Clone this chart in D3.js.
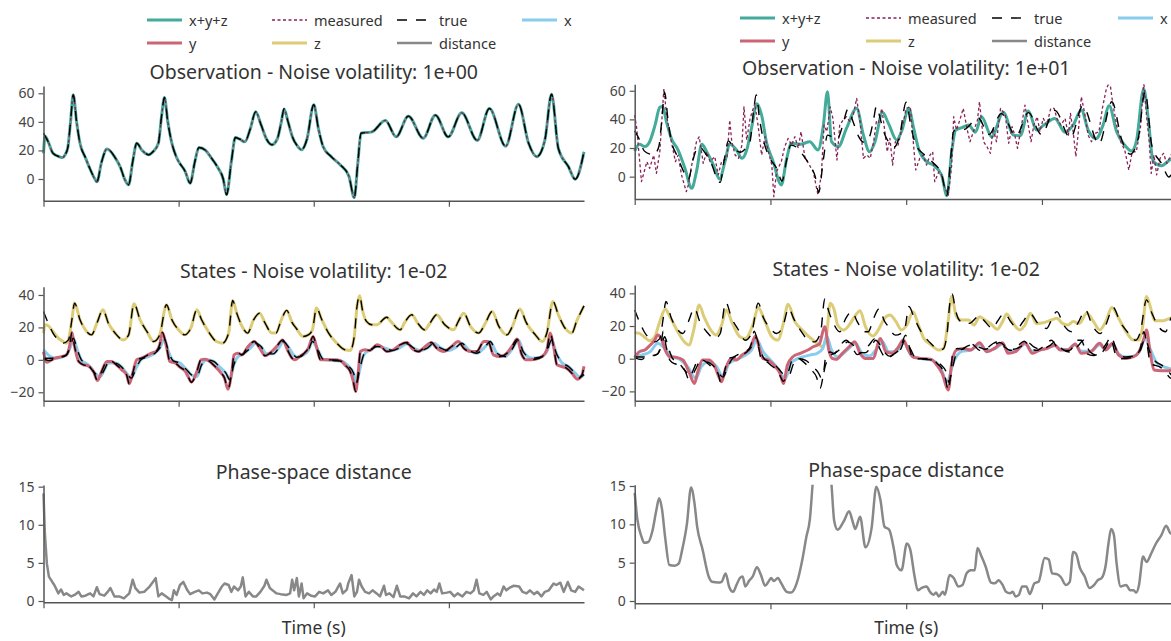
<!DOCTYPE html>
<html>
<head>
<meta charset="utf-8">
<script src="https://cdn.jsdelivr.net/npm/d3@7"></script>
<style>
  body { margin: 0; background: #fff; overflow: hidden; }
  svg { display: block; font-family: "Noto Sans", sans-serif; }
</style>
</head>
<body>
<svg id="chart" width="1171" height="641"></svg>
<script>
// ---- data: [time (s), value] ----
const timeTicks = [0, 10, 20, 30];
const obsTicks = [0, 20, 40, 60];
const stateTicks = [-20, 0, 20, 40];
const distTicks = [0, 5, 10, 15];

const trueObs = [[0,32],[0.35,26],[0.7,18],[1.2,15.5],[1.4,15],[1.6,17],[1.8,22],[2.0,40],[2.2,59],[2.45,40],[2.7,25],[3.1,15],[3.4,8],[3.8,0],[3.95,-2],[4.3,12],[4.7,21],[5.3,15],[5.7,8],[6.0,0],[6.3,-4],[6.6,12],[6.9,25],[7.3,20],[7.8,17],[8.1,19],[8.5,25],[8.75,45],[8.95,57],[9.2,40],[9.5,25],[9.85,15],[10.5,5],[10.85,-3],[11.2,12],[11.5,22],[12.0,20],[12.4,15],[12.9,8],[13.3,0],[13.55,-11],[13.9,12],[14.2,29],[14.5,28],[14.9,26],[15.3,35],[15.7,47],[16.1,38],[16.5,28],[16.9,24],[17.3,28],[17.6,40],[17.8,49],[18.1,40],[18.4,30],[18.8,23],[19.1,20.5],[19.5,28],[20.0,52],[20.35,35],[20.7,22.5],[21.3,15.6],[21.95,10],[22.6,2],[23.0,-13],[23.25,10],[23.5,32],[24.3,33],[25.3,41],[26.1,29.5],[27.0,44],[28.1,28.5],[29.0,44.7],[29.95,29.5],[30.95,46.3],[32.1,27],[33.0,49.3],[34.2,23],[35.15,52.3],[35.9,25],[36.5,15.6],[37.1,27],[37.6,59.3],[38.1,21.5],[38.85,8.6],[39.35,-0.2],[40,19]];

// left column: estimate joins the true curve after the first instant, measured lies on it
const obsEstLeft = [[0,18],[0.12,30], ...trueObs.slice(1)];
const obsMeasLeft = trueObs;

const obsEstRight = [[0,17.9],[0.35,22.6],[0.75,21],[1.1,24.4],[1.5,36],[1.85,48.4],[2.05,49],[2.35,38],[2.7,26.7],[3.2,18.6],[3.7,5.8],[4.2,-8.1],[4.55,3.5],[4.95,22.6],[5.3,17.4],[5.8,8.1],[6.25,-1.6],[6.65,10.5],[7.0,22.8],[7.5,18.6],[7.9,12.8],[8.25,18.6],[8.6,33.7],[9.0,51],[9.35,43],[9.7,24.4],[10.2,10.5],[10.8,-5.8],[11.2,12.8],[11.55,23.3],[12.2,22.6],[12.9,24.4],[13.5,18.6],[13.9,36],[14.2,59.3],[14.5,24.4],[15.0,21],[15.6,33.7],[16.35,47.7],[16.85,29],[17.3,17.4],[17.7,24.4],[18.25,44.9],[18.7,37],[19.3,25.6],[19.65,31.4],[20.2,47.7],[20.5,36],[20.9,19.8],[21.5,10.5],[22.0,8.1],[22.6,1.2],[23.0,-13.3],[23.35,17.4],[23.65,32.6],[24.1,34.2],[24.6,36],[25.1,31],[25.55,41.9],[26.3,27.9],[27.15,44.9],[27.9,29],[28.4,28.6],[29.0,45.8],[29.6,32.6],[30.2,36.5],[30.95,40.7],[31.7,31],[32.3,36],[32.9,46.5],[33.4,32.6],[34.0,26.7],[34.5,36],[34.95,49.5],[35.5,31.4],[36.1,22],[36.6,17.9],[36.95,24.4],[37.5,61.2],[37.8,43],[38.2,10.5],[38.8,7.7],[39.5,12.3],[40,14]];

const obsMeasRight = [[0,43],[0.15,33.7],[0.5,-3.5],[0.9,10.5],[1.1,5.8],[1.4,15],[1.6,2.3],[1.85,17.4],[2.15,61.6],[2.35,43],[2.6,29],[3.0,10.5],[3.2,15],[3.45,1.2],[3.8,-10.5],[3.95,-5.8],[4.2,8.1],[4.55,24.4],[4.75,27.9],[5.05,9.3],[5.3,17.4],[5.55,10.5],[5.9,14],[6.15,1.2],[6.4,10.5],[6.8,12.8],[7.0,39.5],[7.15,24.4],[7.4,15.1],[7.65,12.8],[7.9,22.1],[8.05,48.8],[8.25,25.6],[8.5,40.7],[8.85,51.2],[9.1,34.9],[9.35,15.1],[9.6,27.9],[9.85,17.4],[10.1,8.1],[10.25,-14],[10.45,3.5],[10.8,10.5],[11.05,20.9],[11.3,26.7],[11.55,22.1],[11.8,27.9],[12.05,19.8],[12.25,31.4],[12.55,12.8],[12.8,9.3],[13.15,3.5],[13.5,-12.8],[13.75,1.2],[13.95,36],[14.15,31.4],[14.4,48.8],[14.6,40.7],[14.9,11.6],[15.1,36],[15.35,39.5],[15.6,41.9],[15.85,38.4],[16.1,43],[16.35,54.7],[16.6,38.4],[16.85,12.8],[17.1,15.1],[17.35,12.8],[17.6,24.4],[17.8,38.4],[17.95,37.2],[18.2,47.7],[18.45,30],[18.6,17.4],[18.8,26.7],[19.0,8.1],[19.2,24.4],[19.4,22.1],[19.8,38.4],[20.0,47.7],[20.3,48.8],[20.5,26.7],[20.7,4.7],[21.0,12.8],[21.25,15.1],[21.5,8.1],[21.75,15.1],[21.95,17.4],[22.1,-3.5],[22.4,3.5],[22.6,1.2],[22.85,-8.1],[23.1,-12.8],[23.35,8.1],[23.5,41.9],[23.7,32.6],[23.95,39.5],[24.2,47.7],[24.5,32.6],[24.7,24.4],[24.95,31.4],[25.25,39.5],[25.4,52.3],[25.7,24.4],[25.95,20.9],[26.2,16.3],[26.4,33.7],[26.65,24.4],[26.95,47.7],[27.3,43],[27.55,23.3],[27.8,34.9],[28.0,29],[28.2,19.8],[28.5,36],[28.75,50],[28.95,38.4],[29.2,24.4],[29.4,36],[29.65,41.9],[29.85,31.4],[30.1,40.7],[30.35,36],[30.65,47.7],[30.9,47.7],[31.1,40.7],[31.4,36],[31.7,40.7],[31.95,29],[32.1,44.2],[32.3,31.4],[32.5,14],[32.7,33.7],[32.9,55.8],[33.15,44.2],[33.4,29],[33.65,24.4],[33.9,30.2],[34.2,31.4],[34.45,47.7],[34.75,61.6],[35.0,66.3],[35.2,52.3],[35.5,36],[35.8,24.4],[36.1,18.6],[36.4,4.7],[36.65,17.4],[36.95,17.4],[37.25,33.7],[37.5,66.3],[37.7,43],[37.9,24.4],[38.05,2.3],[38.25,15.1],[38.45,1.2],[38.7,12.8],[38.95,16.3],[39.2,9.3],[39.5,15.1],[39.8,17]];

const trueX = [[0,1],[0.35,1],[0.85,1],[1.35,1.6],[1.7,3.1],[2.0,8.2],[2.2,13.4],[2.5,6.2],[2.8,0],[3.3,-3.1],[3.8,-8.2],[4.2,-10.3],[4.5,-6.2],[4.8,-2],[5.3,-2],[5.8,-4.5],[6.15,-8.2],[6.5,-11.3],[6.85,-5.1],[7.25,0.4],[7.75,2],[8.25,4.1],[8.6,7.2],[8.95,12.8],[9.25,5.1],[9.6,-0.6],[10.1,-2],[10.6,-6.2],[10.95,-9.3],[11.35,-10.3],[11.7,-3.1],[12.1,0],[12.6,-1],[13.05,-4.5],[13.5,-8.2],[13.8,-12.3],[14.05,-4.1],[14.35,1.6],[14.8,3.7],[15.3,7.2],[15.7,10.3],[16.1,8.2],[16.5,3.7],[17.0,3.7],[17.4,7.2],[17.75,11.3],[18.1,8.2],[18.5,3.1],[18.75,1.6],[19.25,3.1],[19.6,5.8],[19.9,11.3],[20.3,6.2],[20.7,0.4],[21.45,-0.4],[22.1,-1],[22.55,-3.7],[22.95,-8.2],[23.15,-14.4],[23.4,-6.2],[23.7,3.1],[24.2,6.2],[24.7,8.2],[25.3,7.2],[25.8,5.8],[26.3,7.2],[26.9,9.9],[27.4,7.2],[27.9,5.8],[28.4,7.2],[28.9,10.3],[29.4,7.2],[29.95,5.8],[30.6,8.2],[30.95,10.3],[31.45,6.2],[32.05,4.1],[32.7,8.2],[33.05,11.3],[33.55,4.1],[34.15,2],[34.65,6.2],[35.15,12.3],[35.5,5.1],[36.15,1],[36.75,1.6],[37.25,5.1],[37.6,12.3],[37.95,4.1],[38.35,-1.6],[38.85,-4.1],[39.35,-8.2],[39.7,-10.7],[40,-9]];

const trueY = [[0,0.5],[0.5,-0.5],[0.85,1],[1.35,2],[1.7,3],[1.95,9.3],[2.1,16.9],[2.3,8.2],[2.6,-1],[2.95,-3.1],[3.3,-3.7],[3.7,-7.2],[4.0,-12.8],[4.3,-7.2],[4.7,-1],[5.05,-1],[5.4,-3.1],[5.8,-6.2],[6.15,-9.3],[6.35,-14.8],[6.6,-8.2],[6.9,0],[7.25,1],[7.6,2.5],[8.0,4.1],[8.4,5.8],[8.6,9.3],[8.8,16.9],[9.1,8.2],[9.35,-1],[9.75,-2],[10.1,-4.5],[10.5,-7.2],[10.7,-10.3],[10.95,-13.8],[11.35,-7.2],[11.65,0],[11.95,0.4],[12.3,-1],[12.7,-4.1],[13.05,-7.2],[13.4,-11.3],[13.65,-18.1],[13.95,-6.2],[14.1,3.1],[14.4,4.1],[14.7,3.1],[15.05,7.2],[15.6,11.3],[16.0,7.2],[16.4,2.5],[16.75,4.1],[17.25,8.2],[17.7,12.3],[18.05,6.2],[18.4,1],[18.6,0],[18.95,2],[19.3,4.1],[19.6,7.2],[19.95,14.4],[20.2,8.2],[20.5,0],[20.95,0],[21.6,0],[21.95,-0.4],[22.3,-3.1],[22.7,-7.2],[22.9,-12.3],[23.1,-19.5],[23.3,-7.2],[23.45,5.1],[23.8,6.2],[24.15,5.8],[24.7,9.3],[25.0,8.2],[25.4,5.1],[25.9,6.2],[26.4,9.3],[26.9,10.7],[27.25,7.2],[27.75,5.1],[28.25,8.2],[28.7,10.7],[29.1,7.2],[29.6,5.1],[30.2,8.2],[30.7,11.3],[31.1,7.2],[31.6,5.1],[32.05,5.1],[32.6,11.3],[32.9,11.3],[33.3,3.1],[33.8,2],[34.3,4.1],[34.75,9.3],[35.05,12.8],[35.4,3.1],[35.75,0],[36.4,0.4],[36.9,2],[37.25,6.2],[37.5,16.5],[37.75,8.2],[38.0,-3.1],[38.35,-4.1],[38.7,-5.1],[39.1,-8.2],[39.5,-11.9],[39.85,-9.3],[40,-4]];

const trueZ = [[0,29.8],[0.35,22.6],[0.7,16.5],[1.1,12.3],[1.45,10.3],[1.85,12.3],[2.1,24.7],[2.3,35],[2.7,24.7],[3.1,18.5],[3.55,15.4],[3.95,22.6],[4.4,30.9],[4.8,22.6],[5.3,16.5],[5.9,12.3],[6.3,15.4],[6.7,34.6],[7.15,24.7],[7.65,17.5],[8.15,11.3],[8.6,15.4],[9.1,34],[9.5,24.7],[10.0,18.5],[10.45,15.4],[10.9,19.5],[11.35,30.9],[11.7,24.7],[12.2,17.5],[12.8,11.3],[13.25,10.3],[13.7,16.5],[14.0,36.6],[14.3,28.8],[14.7,20.6],[15.1,16.5],[15.55,24.7],[16.0,28.8],[16.4,22.6],[16.9,16.5],[17.2,16.5],[17.6,24.7],[18.0,30.5],[18.4,23],[18.7,19.5],[19.2,14.4],[19.6,15.4],[19.9,18.5],[20.2,31.9],[20.6,24.7],[21.1,16.5],[21.7,10.3],[22.3,6.2],[22.7,5.8],[23.0,14.4],[23.2,32.9],[23.4,39.5],[23.6,30.9],[23.9,23.7],[24.3,21.6],[24.65,21.6],[25.4,26.3],[25.7,23.7],[26.4,18.5],[26.7,22.6],[27.25,27.8],[27.7,22.6],[28.2,18.5],[28.6,22.6],[29.1,27.8],[29.7,21.6],[30.35,18.5],[30.7,23.7],[31.1,28.8],[31.6,20.6],[32.2,16.5],[32.7,22.6],[33.2,29.8],[33.7,20.6],[34.3,15.4],[34.7,20.6],[35.25,31.3],[35.75,22.6],[36.4,15.4],[36.9,11.3],[37.25,16.5],[37.7,36],[38.1,27.8],[38.6,19.5],[39.1,16.5],[39.45,23.7],[40,33.3]];

// left column estimates: differ from truth only at the start
const estXLeft = [[0,6.2],[0.35,3.1], ...trueX.slice(2)];
const estYLeft = [[0,5],[0.25,-1.5], ...trueY.slice(1)];
const estZLeft = [[0,16.5],[0.1,21.6],[0.35,21],[0.7,17.5],[1.1,13.4],[1.45,11.3],[1.7,10.3], ...trueZ.slice(5)];

const estXRight = [[0,1.2],[0.5,2.2],[1.15,4.3],[1.7,9.4],[2.1,7.3],[2.7,1.6],[3.4,-0.8],[3.9,-4.9],[4.5,-12],[4.9,-4.9],[5.45,-1.8],[6.0,-4.5],[6.5,-11],[6.95,-2.9],[7.5,-0.4],[8.05,1.6],[8.6,5.3],[9.0,11.4],[9.45,4.3],[10.0,-0.8],[10.55,-5.9],[11.1,-12],[11.5,-2.9],[12.05,0.2],[12.9,2.2],[13.45,3.3],[13.85,6.3],[14.15,13.5],[14.5,5.3],[14.95,1.2],[15.65,5.3],[16.25,9.4],[16.75,3.3],[17.3,1.6],[17.85,6.3],[18.25,10.4],[18.7,4.3],[19.25,4.3],[19.85,9.8],[20.35,2.2],[21.0,0.2],[21.85,-0.8],[22.55,-5.9],[23.0,-14.1],[23.5,-1.8],[24.05,4.3],[24.75,5.3],[25.4,8.5],[25.95,5],[26.5,6],[27.1,9],[27.5,4.5],[28.05,4.8],[28.75,9],[29.3,4.5],[29.85,5.5],[30.4,6.5],[30.95,8],[31.35,6],[31.9,5.5],[32.45,8.5],[32.9,4.5],[33.6,4.5],[34.25,8.5],[34.7,5.5],[35.2,8.5],[35.65,3],[36.2,1],[36.75,1.5],[37.15,4],[37.6,12],[38.0,5.3],[38.5,-2.9],[39.35,-5.9],[39.8,-6.5]];

const estYRight = [[0,0.8],[0.35,4.3],[0.75,5.3],[1.15,8.4],[1.45,11],[1.7,14.5],[2.0,11.4],[2.25,5.3],[2.6,1.2],[3.1,0.8],[3.55,-0.8],[4.0,-8],[4.4,-15.1],[4.65,-8],[5.0,-0.8],[5.45,-0.8],[5.85,-3.9],[6.25,-12],[6.4,-14.1],[6.7,-5.9],[7.1,0.2],[7.5,-0.8],[7.9,2.2],[8.5,6.3],[8.9,13.9],[9.15,7.3],[9.45,0.2],[9.85,-0.8],[10.25,-3.9],[10.7,-9],[10.95,-15.1],[11.25,-3.9],[11.65,1.2],[12.2,3.3],[12.75,5.3],[13.15,7.3],[13.6,9],[14.0,19.6],[14.3,5.3],[14.55,0.2],[14.85,-0.4],[15.3,3.3],[15.8,7.3],[16.2,10.4],[16.6,3.3],[17.0,0.2],[17.55,0.2],[18.1,12.4],[18.5,4.3],[18.95,3.3],[19.35,6.3],[19.8,11.4],[20.1,6.3],[20.55,0.8],[21.15,0.2],[21.85,-0.4],[22.25,-3.9],[22.65,-9],[23.1,-19.2],[23.35,-2.9],[23.7,5.3],[24.2,6.3],[24.75,5.3],[25.4,9.8],[25.95,4.3],[26.5,6.3],[27.1,9.8],[27.5,3.3],[28.05,4.3],[28.75,9.8],[29.3,3.3],[29.85,5.3],[30.4,6.3],[30.95,8.4],[31.35,5.3],[31.9,5.3],[32.45,9],[32.9,3.3],[33.6,4.3],[34.25,9.4],[34.7,5.3],[35.2,9.4],[35.65,2.2],[36.2,0.2],[36.75,1.2],[37.15,4.3],[37.55,13.5],[37.7,17.6],[37.95,5.3],[38.25,-6.9],[38.8,-7.3],[39.35,-7.3],[39.8,-5.9]];

const estZRight = [[0,15.9],[0.35,15.5],[0.75,13],[1.1,11],[1.45,13],[1.85,22.7],[2.25,30.2],[2.6,25.7],[3.1,17.6],[3.65,10.4],[4.0,8.4],[4.35,17.6],[4.75,32.9],[5.1,25.7],[5.6,17.6],[6.0,14.5],[6.4,20.6],[6.75,29.8],[7.2,21.6],[7.75,13.5],[8.15,12.4],[8.7,20.6],[9.1,31.4],[9.6,22.7],[10.1,13.5],[10.55,11.4],[10.95,21.6],[11.3,33.3],[11.8,22.7],[12.35,17.6],[12.9,13],[13.45,9.4],[13.85,7.3],[14.15,15.5],[14.4,33.9],[14.7,29.8],[14.95,20.6],[15.4,17.6],[15.8,20.6],[16.2,25.7],[16.6,29.4],[17.0,19.6],[17.55,13.9],[17.95,17.6],[18.4,24.7],[18.8,26.7],[19.25,22.7],[19.65,17.6],[20.05,20.6],[20.5,28.8],[20.9,20.6],[21.3,12.4],[21.85,8.4],[22.4,5.3],[22.75,6.3],[23.1,23.7],[23.35,38],[23.7,25.7],[24.05,23.7],[24.6,23.7],[25.0,20.6],[25.4,25.7],[25.8,23.7],[26.25,21.2],[26.7,18],[27.1,22.7],[27.4,27.3],[27.8,22.7],[28.35,17.6],[28.75,20.6],[29.15,27.8],[29.6,21.6],[30.1,22],[30.7,23.7],[31.1,24.7],[31.5,21.6],[31.9,20.6],[32.3,22.7],[32.75,21.6],[33.3,27.8],[33.8,22.7],[34.25,17.6],[34.7,22.7],[35.15,31.4],[35.65,24.7],[36.2,16.5],[36.75,11.4],[37.15,11.4],[37.4,18.6],[37.7,38],[38.05,29.8],[38.3,23.3],[38.95,23.3],[39.5,24.7],[40,23]];

const distLeft = [[0,14.1],[0.1,8.9],[0.25,4.9],[0.4,3.2],[0.65,2.5],[0.8,2.1],[1.1,1.0],[1.3,1.5],[1.5,0.8],[1.7,1.0],[2.05,0.6],[2.3,0.8],[2.6,1.2],[2.8,0.6],[3.1,0.7],[3.45,1.0],[3.7,0.6],[3.95,1.8],[4.15,0.9],[4.5,0.7],[4.75,1.2],[4.95,1.7],[5.25,0.6],[5.6,0.6],[5.95,0.35],[6.35,1.0],[6.6,2.8],[6.8,1.7],[7.1,1.1],[7.45,1.2],[7.85,1.9],[8.1,2.5],[8.3,3.0],[8.5,0.6],[8.75,1.0],[9.0,0.7],[9.25,0.35],[9.5,0.1],[9.65,1.4],[9.85,0.8],[10.1,2.1],[10.35,2.5],[10.65,1.4],[10.85,0.9],[11.2,1.2],[11.5,1.4],[11.75,1.0],[12.1,1.1],[12.35,0.9],[12.65,0.2],[12.9,1.0],[13.2,1.9],[13.4,2.3],[13.7,2.1],[13.9,1.2],[14.1,1.9],[14.4,1.4],[14.6,1.9],[14.75,3.1],[14.95,0.6],[15.2,1.2],[15.5,0.6],[15.75,0.6],[16.05,1.2],[16.35,2.0],[16.5,2.8],[16.75,1.7],[16.95,1.4],[17.25,1.0],[17.55,0.9],[18.0,0.8],[18.25,1.0],[18.4,2.8],[18.55,1.4],[18.75,3.0],[18.9,0.6],[19.1,2.3],[19.25,0.35],[19.5,1.0],[19.8,0.7],[20.1,0.6],[20.4,1.2],[20.7,1.0],[21.05,1.4],[21.3,0.8],[21.6,1.2],[21.95,2.3],[22.15,1.0],[22.45,1.5],[22.55,2.3],[22.8,3.4],[23.0,0.6],[23.2,1.2],[23.35,2.8],[23.55,1.9],[23.8,1.2],[24.1,1.0],[24.35,1.4],[24.65,1.0],[24.9,0.6],[25.2,2.0],[25.35,0.8],[25.6,1.0],[25.9,0.5],[26.15,2.0],[26.4,0.6],[26.7,0.6],[27.05,0.35],[27.35,1.0],[27.6,0.6],[27.9,1.2],[28.15,0.8],[28.4,1.4],[28.65,1.0],[28.9,1.5],[29.1,1.2],[29.3,2.3],[29.5,1.0],[29.85,1.1],[30.1,1.2],[30.4,0.6],[30.65,1.0],[31.0,0.6],[31.3,1.2],[31.6,1.0],[31.85,1.4],[32.05,2.8],[32.25,1.0],[32.55,0.8],[32.8,1.2],[33.1,0.2],[33.3,0.6],[33.6,1.0],[33.8,0.7],[34.05,1.9],[34.25,1.4],[34.55,1.8],[34.8,2.0],[35.2,1.9],[35.45,1.2],[35.75,1.0],[36.0,1.4],[36.3,0.9],[36.55,1.2],[36.85,0.6],[37.1,1.2],[37.4,1.4],[37.75,2.3],[37.95,2.1],[38.25,2.4],[38.5,1.2],[38.8,2.5],[39.05,1.4],[39.35,1.2],[39.6,1.9],[40,1.4]];

const distRight = [[0,14.1],[0.2,10.6],[0.5,8.4],[0.7,7.6],[1.0,7.7],[1.3,9.1],[1.6,11.9],[1.8,13.4],[2.0,12.1],[2.25,8.2],[2.55,4.7],[2.95,4.6],[3.25,4.9],[3.5,6.7],[3.85,10.1],[4.15,14.8],[4.4,12.8],[4.6,9.7],[5.0,6.7],[5.45,3.2],[5.7,2.5],[6.15,2.4],[6.4,2.5],[6.7,3.6],[6.95,1.9],[7.25,1.2],[7.5,2.1],[7.75,3.0],[7.95,3.2],[8.15,1.9],[8.45,2.7],[8.7,3.2],[9.0,4.4],[9.3,3.4],[9.6,2.0],[9.85,2.5],[10.05,3.0],[10.25,2.6],[10.55,3.0],[10.8,2.3],[11.2,1.2],[11.5,1.1],[11.8,1.7],[12.05,3.0],[12.35,5.4],[12.65,8.4],[12.9,10.6],[13.1,15.1],[13.4,22],[13.9,24],[14.3,19],[14.5,15.1],[14.7,10.4],[14.95,9.3],[15.4,10.4],[15.8,11.7],[16.05,10.4],[16.25,9.4],[16.6,11],[17.0,7.0],[17.45,9.5],[17.8,14.9],[18.1,13.2],[18.4,9.7],[18.75,9.3],[19.1,6.7],[19.3,4.7],[19.65,4.0],[20.05,7.5],[20.3,6.7],[20.6,3.4],[20.85,1.4],[21.15,1.7],[21.5,1.9],[21.75,1.2],[22.0,0.8],[22.2,1.1],[22.4,0.6],[22.7,1.2],[22.85,0.8],[23.2,3.4],[23.5,3.0],[23.85,1.9],[24.15,2.1],[24.45,3.6],[24.75,4.0],[25.05,4.0],[25.25,6.9],[25.55,5.8],[25.85,4.5],[26.25,2.4],[26.55,2.3],[26.8,2.7],[27.1,2.1],[27.35,1.2],[27.65,1.0],[27.85,1.2],[28.05,0.6],[28.3,0.8],[28.55,1.9],[28.85,1.9],[29.1,0.9],[29.45,2.3],[29.75,2.5],[30.2,5.6],[30.5,5.4],[30.75,3.6],[31.1,3.5],[31.4,3.1],[31.75,2.1],[32.05,2.5],[32.3,6.4],[32.5,6.2],[32.8,4.3],[33.15,3.2],[33.5,1.7],[33.85,2.1],[34.1,2.7],[34.4,3.0],[34.7,4.7],[34.9,7.5],[35.1,9.4],[35.3,8.6],[35.5,4.9],[35.8,1.9],[36.2,2.1],[36.5,1.4],[36.75,1.4],[36.95,1.1],[37.15,2.1],[37.45,5.8],[37.7,5.1],[38.05,6.2],[38.4,7.5],[38.8,8.6],[39.15,9.8],[39.5,8.8],[40,9.5]];

// ---- styles ----
const styles = {
  est:  { label: "x+y+z",    color: "#44AA99", width: 3 },
  meas: { label: "measured", color: "#882255", width: 1.3, dash: "3,2.5" },
  tru:  { label: "true",     color: "#000000", width: 1.4, dash: "10,9" },
  x:    { label: "x",        color: "#88CCEE", width: 3 },
  y:    { label: "y",        color: "#CC6677", width: 3 },
  z:    { label: "z",        color: "#DDCC77", width: 3 },
  dist: { label: "distance", color: "#888888", width: 2.5 }
};
const legendOrder = ["est", "meas", "tru", "x", "y", "z", "dist"];

const columns = [
  {
    x0: 43.5, x1: 584, legendX: 147, legendY: 20, legendStep: 125,
    panels: [
      { title: "Observation - Noise volatility: 1e+00", titleY: 79, domain: [-15.2, 65.1], top: 86, bottom: 200.7, ticks: obsTicks,
        series: [["est", obsEstLeft, true], ["meas", obsMeasLeft, true], ["tru", trueObs, true]] },
      { title: "States - Noise volatility: 1e-02", titleY: 278, domain: [-25.2, 45.1], top: 286.7, bottom: 400.7, ticks: stateTicks,
        series: [["z", estZLeft, true], ["x", estXLeft, true], ["y", estYLeft, true], ["tru", trueZ, true], ["tru", trueX, true], ["tru", trueY, true]] },
      { title: "Phase-space distance", titleY: 479, domain: [-0.17, 15.22], top: 485, bottom: 602.3, ticks: distTicks,
        series: [["dist", distLeft, false]] }
    ]
  },
  {
    x0: 634.7, x1: 1177.7, legendX: 740, legendY: 18, legendStep: 126,
    panels: [
      { title: "Observation - Noise volatility: 1e+01", titleY: 75, domain: [-15.6, 64.5], top: 84.3, bottom: 199, ticks: obsTicks,
        series: [["est", obsEstRight, true], ["meas", obsMeasRight, false], ["tru", trueObs, true]] },
      { title: "States - Noise volatility: 1e-02", titleY: 276, domain: [-25.7, 45.1], top: 285, bottom: 400.7, ticks: stateTicks,
        series: [["z", estZRight, true], ["x", estXRight, true], ["y", estYRight, true], ["tru", trueZ, true], ["tru", trueX, true], ["tru", trueY, true]] },
      { title: "Phase-space distance", titleY: 477, domain: [-0.3, 15.17], top: 484.7, bottom: 603.3, ticks: distTicks,
        series: [["dist", distRight, true]] }
    ]
  }
];

const svg = d3.select("#chart");
const axisColor = "#555";
const textColor = "#333";

columns.forEach((col, ci) => {
  const x = d3.scaleLinear().domain([0, 40]).range([col.x0, col.x1]);
  const mid = (col.x0 + col.x1) / 2;

  // legend
  legendOrder.forEach((key, i) => {
    const s = styles[key];
    const lx = col.legendX + (i % 4) * col.legendStep;
    const ly = col.legendY + Math.floor(i / 4) * 23;
    svg.append("line")
      .attr("x1", lx).attr("x2", lx + 35).attr("y1", ly).attr("y2", ly)
      .attr("stroke", s.color).attr("stroke-width", s.width)
      .attr("stroke-dasharray", s.dash || null);
    svg.append("text")
      .attr("x", lx + 42).attr("y", ly)
      .attr("dominant-baseline", "central")
      .attr("font-size", 14.5).attr("fill", textColor)
      .text(s.label);
  });

  col.panels.forEach((p, pi) => {
    const y = d3.scaleLinear().domain(p.domain).range([p.bottom, p.top]);
    const g = svg.append("g");

    g.append("text")
      .attr("x", mid).attr("y", p.titleY)
      .attr("text-anchor", "middle")
      .attr("font-size", 19.5).attr("fill", textColor)
      .text(p.title);

    const clipId = `clip-${ci}-${pi}`;
    svg.append("clipPath").attr("id", clipId)
      .append("rect")
      .attr("x", col.x0 - 2).attr("y", p.top)
      .attr("width", col.x1 - col.x0 + 4).attr("height", p.bottom - p.top);

    const plot = g.append("g").attr("clip-path", `url(#${clipId})`);
    p.series.forEach(([key, data, smooth]) => {
      const s = styles[key];
      const line = d3.line()
        .x(d => x(d[0]))
        .y(d => y(d[1]))
        .curve(smooth ? d3.curveMonotoneX : d3.curveLinear);
      plot.append("path")
        .datum(data)
        .attr("d", line)
        .attr("fill", "none")
        .attr("stroke", s.color)
        .attr("stroke-width", s.width)
        .attr("stroke-linejoin", "round")
        .attr("stroke-dasharray", s.dash || null);
    });

    const yAxis = g.append("g")
      .attr("transform", `translate(${col.x0},0)`)
      .call(d3.axisLeft(y).tickValues(p.ticks).tickSize(5).tickSizeOuter(0).tickPadding(4));
    const xAxis = g.append("g")
      .attr("transform", `translate(0,${p.bottom})`)
      .call(d3.axisBottom(x).tickValues(timeTicks).tickFormat("").tickSize(6).tickSizeOuter(0));

    [yAxis, xAxis].forEach(a => {
      a.select(".domain").attr("stroke", axisColor).attr("stroke-width", 1.5);
      a.selectAll(".tick line").attr("stroke", axisColor).attr("stroke-width", 1.2);
      a.selectAll(".tick text")
        .attr("font-family", "Noto Sans, sans-serif")
        .attr("font-size", 14).attr("fill", "#444");
    });
  });

  svg.append("text")
    .attr("x", mid).attr("y", 634)
    .attr("text-anchor", "middle")
    .attr("font-size", 17.5).attr("fill", textColor)
    .text("Time (s)");
});
</script>
</body>
</html>
